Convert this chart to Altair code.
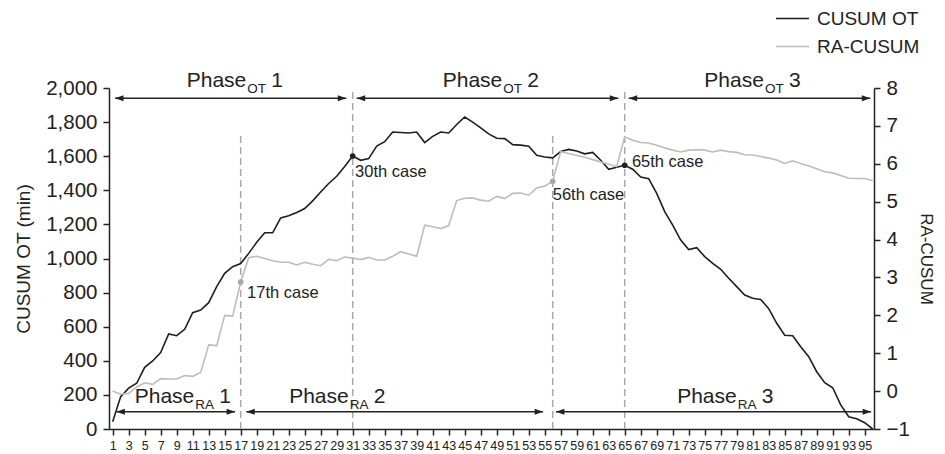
import altair as alt
import pandas as pd

# ---------------- data ----------------
cases = list(range(1, 97))
cusum_ot = [43, 190, 240, 268, 362, 399, 448, 557, 547, 585,
            682, 698, 741, 835, 913, 952, 970, 1030, 1095, 1151,
            1151, 1238, 1251, 1270, 1293, 1338, 1390, 1440, 1482, 1540,
            1601, 1576, 1586, 1659, 1685, 1742, 1739, 1736, 1742, 1680,
            1716, 1742, 1736, 1786, 1830, 1800, 1766, 1731, 1705, 1703,
            1668, 1665, 1658, 1605, 1595, 1590, 1627, 1640, 1630, 1614,
            1622, 1576, 1523, 1535, 1547, 1524, 1478, 1468, 1382, 1275,
            1196, 1108, 1052, 1063, 1011, 972, 937, 884, 835, 786,
            767, 760, 706, 620, 550, 547, 483, 424, 336, 272,
            242, 141, 72, 60, 37, 0]
ra_cusum = [0.0, -0.08, -0.06, 0.11, 0.22, 0.18, 0.33, 0.32, 0.32, 0.41,
            0.39, 0.49, 1.22, 1.20, 2.0, 1.98, 2.88, 3.52, 3.56, 3.50,
            3.44, 3.40, 3.40, 3.33, 3.40, 3.35, 3.31, 3.48, 3.44, 3.54,
            3.51, 3.47, 3.53, 3.46, 3.46, 3.56, 3.68, 3.62, 3.56, 4.38,
            4.34, 4.29, 4.37, 5.03, 5.09, 5.10, 5.04, 5.01, 5.14, 5.08,
            5.22, 5.23, 5.17, 5.36, 5.41, 5.54, 6.32, 6.27, 6.22, 6.17,
            6.11, 6.05, 5.99, 5.93, 6.71, 6.62, 6.56, 6.55, 6.49, 6.42,
            6.36, 6.31, 6.36, 6.37, 6.36, 6.31, 6.36, 6.32, 6.30, 6.24,
            6.23, 6.19, 6.15, 6.10, 6.01, 6.08, 6.01, 5.94, 5.87, 5.79,
            5.76, 5.69, 5.62, 5.61, 5.61, 5.55]
series_names = ["CUSUM OT", "RA-CUSUM"]
series_colors = ["#1e1e1e", "#bdbdbd"]
x_tick_values = list(range(1, 96, 2))
left_ticks = list(range(0, 2001, 200))
right_ticks = list(range(-1, 9))

# phase arrows (in case units) and their labels
phase_nums = ["1", "2", "3"]
ot_start = [1.29, 31.5, 65.5]
ot_end = [30.2, 64.2, 95.7]
ot_label_at = [17.7, 49.7, 82.4]
ra_start = [1.46, 17.7, 56.4]
ra_end = [16.3, 54.8, 95.8]
ra_label_at = [11.2, 30.5, 79.0]
ot_arrow_level = 1940
ra_arrow_level = 101
ot_text_level = 2006
ra_text_level = 152

# cut-off cases
cut_cases = [17, 31, 56, 65]
cut_tops = [1724, 2000, 1724, 2000]
ot_marker_cases = [31, 65]
ot_marker_values = [1601, 1547]
ra_marker_cases = [17, 56]
ra_marker_values = [2.88, 5.54]
case_texts = ["17th case", "30th case", "56th case", "65th case"]
case_text_x = [17.8, 31.3, 56.0, 65.9]
case_text_y = [798, 1507, 1372, 1566]

FONT = "Liberation Sans"
DARK = "#222222"

# ---------------- tables ----------------
ot_df = pd.DataFrame({"case": cases, "value": cusum_ot, "series": series_names[0]})
ra_df = pd.DataFrame({"case": cases, "value": ra_cusum, "series": series_names[1]})
ot_arrows = pd.DataFrame({"start": ot_start, "end": ot_end, "level": ot_arrow_level,
                          "at": ot_label_at, "num": phase_nums, "tl": ot_text_level,
                          "sub": "OT"})
ra_arrows = pd.DataFrame({"start": ra_start, "end": ra_end, "level": ra_arrow_level,
                          "at": ra_label_at, "num": phase_nums, "tl": ra_text_level,
                          "sub": "RA"})
arrows = pd.concat([ot_arrows, ra_arrows], ignore_index=True)
cuts = pd.DataFrame({"case": cut_cases, "top": cut_tops, "bottom": 0})
ot_marks = pd.DataFrame({"case": ot_marker_cases, "value": ot_marker_values})
ra_marks = pd.DataFrame({"case": ra_marker_cases, "value": ra_marker_values})
labels = pd.DataFrame({"case": case_text_x, "value": case_text_y, "text": case_texts})

# ---------------- encodings ----------------
x_scale = alt.Scale(domain=[0.54, 96.16], nice=False, zero=False)
x_axis = alt.Axis(values=x_tick_values, title=None, labelOverlap=False, labelFlush=False,
                  labelFontSize=12.5, labelPadding=4, grid=False, tickSize=6)


def xq(field):
    return alt.X(f"{field}:Q", scale=x_scale, axis=x_axis)


left_scale = alt.Scale(domain=[0, 2000], nice=False, zero=False)
left_axis = alt.Axis(values=left_ticks, format=",.0f", title="CUSUM OT (min)", grid=False,
                     tickSize=6, labelPadding=6, titlePadding=12, labelFontSize=20.5,
                     titleFontSize=19, titleFontWeight="normal")


def yl(field):
    return alt.Y(f"{field}:Q", scale=left_scale, axis=left_axis)


right_scale = alt.Scale(domain=[-1, 8], nice=False, zero=False)
right_axis = alt.Axis(values=right_ticks, format=".0f", title="RA-CUSUM", orient="right",
                      grid=False, tickSize=6, labelPadding=6, titlePadding=7,
                      labelFontSize=20.5, titleFontSize=17, titleFontWeight="normal")


def yr(field):
    return alt.Y(f"{field}:Q", scale=right_scale, axis=right_axis)


legend = alt.Legend(title=None, orient="none", legendX=666, legendY=-87,
                    symbolType="stroke", symbolSize=1089, symbolStrokeWidth=1.6,
                    labelFontSize=19, labelOffset=7, rowPadding=-5, labelColor=DARK,
                    labelFont=FONT)
color = alt.Color("series:N", scale=alt.Scale(domain=series_names, range=series_colors),
                  legend=legend)

# ---------------- left group ----------------
ot_line = alt.Chart(ot_df).mark_line(strokeWidth=1.6).encode(
    x=xq("case"), y=yl("value"), color=color)

cut_rules = alt.Chart(cuts).mark_rule(color="#a8a8a8", strokeWidth=1.5,
                                      strokeDash=[7, 4]).encode(
    x=xq("case"), y=yl("bottom"), y2="top")

arrow_shafts = alt.Chart(arrows).mark_rule(color=DARK, strokeWidth=1.4).encode(
    x=xq("start"), x2="end", y=yl("level"))
head_right = alt.Chart(arrows).mark_point(
    shape="M0,0L-2,-0.7L-2,0.7Z", filled=True, opacity=1, color=DARK, size=72,
    strokeWidth=0).encode(x=xq("end"), y=yl("level"))
head_left = alt.Chart(arrows).mark_point(
    shape="M0,0L2,-0.7L2,0.7Z", filled=True, opacity=1, color=DARK, size=72,
    strokeWidth=0).encode(x=xq("start"), y=yl("level"))

phase_word = alt.Chart(arrows).mark_text(
    text="Phase", align="right", baseline="alphabetic", fontSize=21, color=DARK,
    font=FONT).encode(x=xq("at"), y=yl("tl"))
phase_sub = alt.Chart(arrows).mark_text(
    align="left", baseline="alphabetic", fontSize=13.5, color=DARK, font=FONT,
    dx=1, dy=6).encode(x=xq("at"), y=yl("tl"), text="sub:N")
phase_num = alt.Chart(arrows).mark_text(
    align="left", baseline="alphabetic", fontSize=21, color=DARK, font=FONT,
    dx=25).encode(x=xq("at"), y=yl("tl"), text="num:N")

ot_dots = alt.Chart(ot_marks).mark_circle(color=DARK, size=32, opacity=1).encode(
    x=xq("case"), y=yl("value"))
case_labels = alt.Chart(labels).mark_text(
    align="left", baseline="middle", fontSize=16.5, color=DARK, font=FONT).encode(
    x=xq("case"), y=yl("value"), text="text:N")

left_group = alt.layer(cut_rules, ot_line, arrow_shafts, head_right, head_left,
                       phase_word, phase_sub, phase_num, ot_dots, case_labels)

# ---------------- right group ----------------
ra_line = alt.Chart(ra_df).mark_line(strokeWidth=1.6).encode(
    x=xq("case"), y=yr("value"), color=color)
ra_dots = alt.Chart(ra_marks).mark_circle(color="#a8a8a8", size=32, opacity=1).encode(
    x=xq("case"), y=yr("value"))
right_group = alt.layer(ra_line, ra_dots)

chart = alt.layer(left_group, right_group).resolve_scale(y="independent").properties(
    width=765, height=341,
    autosize=alt.AutoSizeParams(type="none"),
    padding={"left": 101, "top": 80, "right": 63, "bottom": 22},
).configure(font=FONT).configure_view(stroke=None).configure_axis(
    domainColor=DARK, domainWidth=1.5, tickColor=DARK, tickWidth=1.5,
    labelColor=DARK, titleColor=DARK, labelFont=FONT, titleFont=FONT)

chart.save("out.html", embed_options={"renderer": "svg", "actions": False})
